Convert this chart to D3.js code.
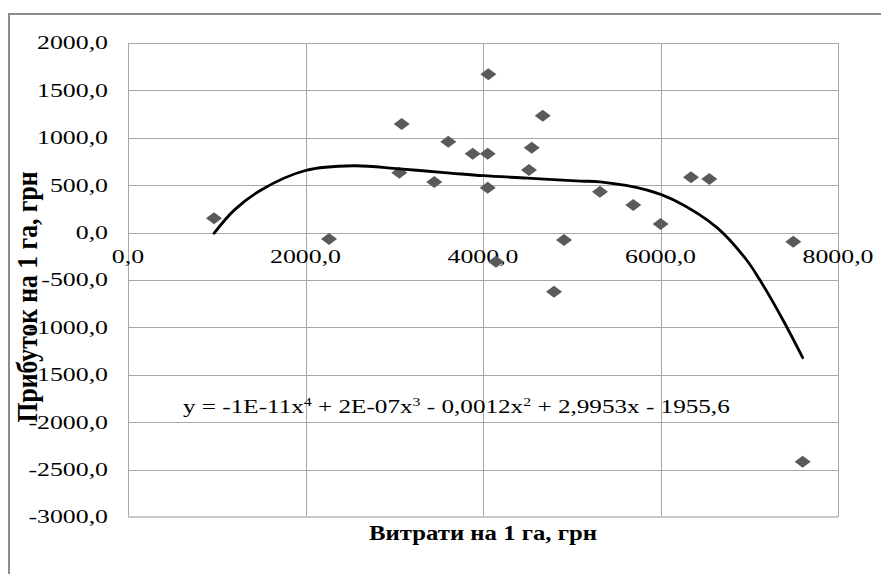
<!DOCTYPE html>
<html>
<head>
<meta charset="utf-8">
<script src="https://cdn.jsdelivr.net/npm/d3@7"></script>
<style>
  body { margin: 0; background: #fff; }
  text, tspan { font-family: "Liberation Serif", "Times New Roman", serif; fill: #000; }
</style>
</head>
<body>
<div id="chart"></div>
<script>
// Scatter: витрати vs прибуток на 1 га, with polynomial trend line

var costValues = [969, 2265, 3084, 3057, 3451, 3609, 3884, 4053, 4060, 4053, 4146, 4518,
                  4549, 4673, 4800, 4913, 5318, 5693, 6001, 6344, 6550, 7496, 7602];
var profitValues = [151, -68, 1146, 632, 534, 959, 832, 832, 1670, 474, -307, 660,
                    896, 1233, -623, -78, 431, 291, 91, 583, 565, -96, -2417];

// Trend line as it appears in the picture
var trendCost = [969, 1200, 1500, 2000, 2540, 3060, 3630, 4000, 4500, 5100, 5320,
                 5850, 6150, 6640, 6970, 7120, 7380, 7602];
var trendProfit = [-7, 240, 450, 655, 705, 672, 628, 600, 575, 544, 535,
                   449, 344, 50, -289, -500, -922, -1320];

// Tick values and labels
var xTickValues = [0, 2000, 4000, 6000, 8000];
var yTickValues = [-3000, -2500, -2000, -1500, -1000, -500, 0, 500, 1000, 1500, 2000];
var xTitle = "Витрати на 1 га, грн";
var yTitle = "Прибуток на 1 га, грн";
// equation pieces: [text, is superscript]
var equationParts = [["y = -1E-11x", false], ["4", true], [" + 2E-07x", false], ["3", true],
                     [" - 0,0012x", false], ["2", true], [" + 2,9953x - 1955,6", false]];

var svgWidth = 881;
var svgHeight = 574;
var margin = { top: 43, right: 43, bottom: 57, left: 128 };
var width = svgWidth - margin.left - margin.right;
var height = svgHeight - margin.top - margin.bottom;
var stretch = 1.36;   // labels in the picture are wider than normal
var serif = "'Liberation Serif', 'Times New Roman', serif";

var fmt = function(v) { return d3.format(".1f")(v).replace(".", ",").replace("−", "-"); };

var svg = d3.select("#chart").append("svg")
    .attr("width", svgWidth)
    .attr("height", svgHeight);

svg.append("rect").attr("width", svgWidth).attr("height", svgHeight).attr("fill", "#fff");

// outer chart frame (runs off the right and bottom edges)
svg.append("path")
    .attr("d", "M9,600 V14 H900")
    .attr("fill", "none")
    .attr("stroke", "#8c8c8c")
    .attr("stroke-width", 2);

var chartGroup = svg.append("g")
    .attr("transform", `translate(${margin.left}, ${margin.top})`);

var xScale = d3.scaleLinear().domain([0, 8000]).range([0, width]);
var yScale = d3.scaleLinear().domain([-3000, 2000]).range([height, 0]);

// gridlines
chartGroup.append("g")
    .attr("class", "grid")
    .call(d3.axisLeft(yScale).tickValues(yTickValues).tickSize(-width).tickFormat(""))
    .call(g => g.select(".domain").remove());

chartGroup.append("g")
    .attr("class", "grid")
    .attr("transform", `translate(0, ${height})`)
    .call(d3.axisBottom(xScale).tickValues(xTickValues).tickSize(-height).tickFormat(""))
    .call(g => g.select(".domain").remove());

chartGroup.selectAll(".grid line")
    .attr("stroke", "#a8a8a8")
    .attr("stroke-width", 1)
    .attr("shape-rendering", "crispEdges");

// lighter bottom edge of plot area
chartGroup.append("line")
    .attr("x1", 0).attr("x2", width)
    .attr("y1", height).attr("y2", height)
    .attr("stroke", "#c8c8c8")
    .attr("stroke-width", 2);

// y tick labels
chartGroup.selectAll(".ylab")
    .data(yTickValues)
    .enter()
    .append("text")
    .attr("class", "ylab")
    .attr("transform", d => `translate(-20, ${yScale(d)}) scale(${stretch},1)`)
    .attr("dy", "0.34em")
    .attr("text-anchor", "end")
    .attr("font-family", serif)
    .style("font-size", "19px")
    .text(d => fmt(d));

// x tick labels, sitting under the zero line
chartGroup.selectAll(".xlab")
    .data(xTickValues)
    .enter()
    .append("text")
    .attr("class", "xlab")
    .attr("transform", d => `translate(${xScale(d)}, ${yScale(0) + 30.5}) scale(${stretch},1)`)
    .attr("text-anchor", "middle")
    .attr("font-family", serif)
    .style("font-size", "19px")
    .text(d => fmt(d));

// points
var points = costValues.map((c, i) => ({ cost: c, profit: profitValues[i] }));
chartGroup.selectAll(".pt")
    .data(points)
    .enter()
    .append("path")
    .attr("class", "pt")
    .attr("d", "M0,-6 L8,0 L0,6 L-8,0 Z")
    .attr("transform", d => `translate(${xScale(d.cost)}, ${yScale(d.profit)})`)
    .attr("fill", "#5a5a5a");

// trend line
var trend = trendCost.map((c, i) => [c, trendProfit[i]]);
chartGroup.append("path")
    .datum(trend)
    .attr("fill", "none")
    .attr("stroke", "#000")
    .attr("stroke-width", 2.8)
    .attr("stroke-linecap", "round")
    .attr("d", d3.line()
        .x(d => xScale(d[0]))
        .y(d => yScale(d[1]))
        .curve(d3.curveCatmullRom.alpha(0.5)));

// squeeze/stretch a text node horizontally to a target width
function fitWidth(sel, x, y, target) {
    var w = sel.node().getComputedTextLength();
    sel.attr("transform", `translate(${x}, ${y}) scale(${target / w},1)`);
}

// trend equation
var eq = svg.append("text").attr("font-family", serif).style("font-size", "19px");
var prevSup = false;
equationParts.forEach(function(p) {
    var dy = p[1] ? -7 : (prevSup ? 7 : 0);
    eq.append("tspan")
        .attr("dy", dy)
        .style("font-size", p[1] ? "12px" : "19px")
        .text(p[0]);
    prevSup = p[1];
});
fitWidth(eq, 183, 413, 547);

// axis titles
var xt = svg.append("text")
    .attr("font-family", serif)
    .style("font-size", "20px")
    .style("font-weight", "bold")
    .text(xTitle);
fitWidth(xt, 369, 540, 228);

var yt = svg.append("text")
    .attr("font-family", serif)
    .style("font-size", "22px")
    .style("font-weight", "bold")
    .attr("text-anchor", "middle")
    .text(yTitle);
var yw = yt.node().getComputedTextLength();
yt.attr("transform", `translate(37, 297) scale(${stretch},1) rotate(-90) scale(${251 / yw},1)`);
</script>
</body>
</html>
